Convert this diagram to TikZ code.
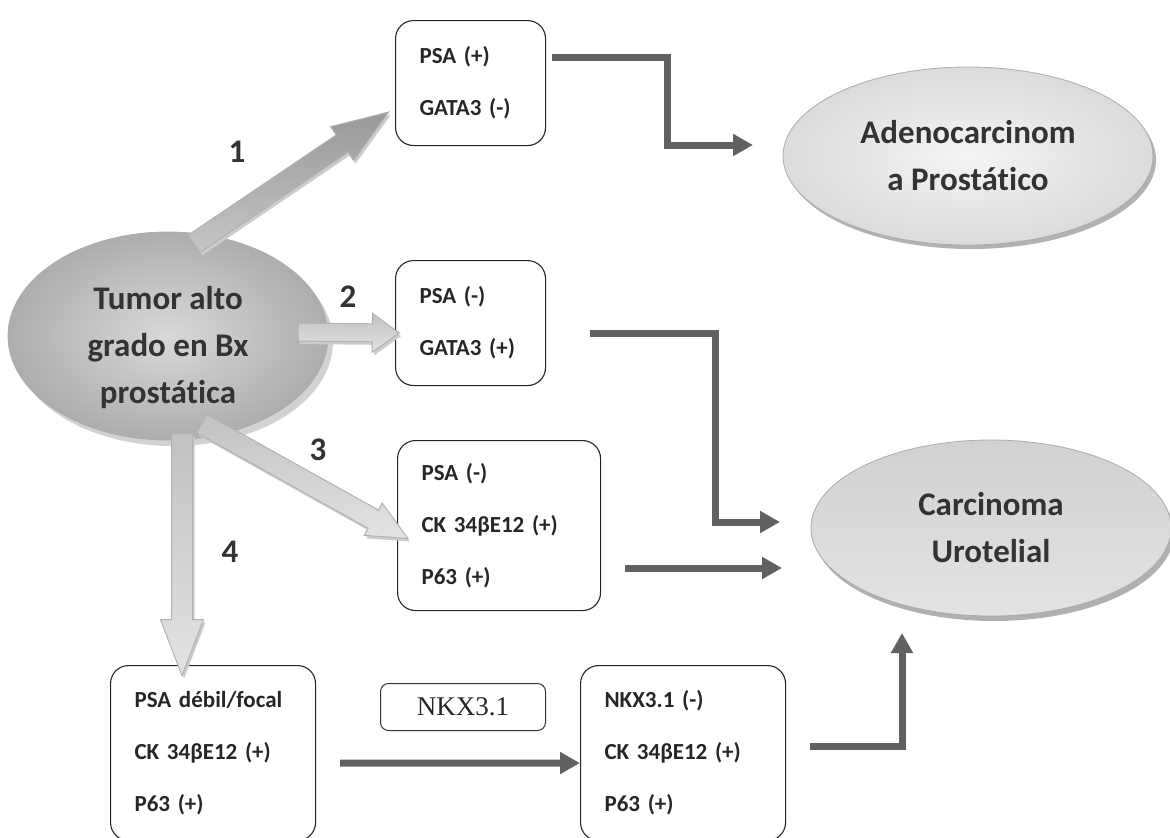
\documentclass[tikz,border=0pt]{standalone}
\usepackage{fontspec}
\setmainfont{Carlito}[Ligatures=NoCommon]
\newfontfamily\serifnk{Liberation Serif}
\usetikzlibrary{shapes,arrows.meta,positioning,calc,shadows}

\tikzset{
  markerbox/.style={draw=black!85, line width=1.1pt, rounded corners=18pt, anchor=north west,
    align=left, inner xsep=24pt, text=black!85, font=\bfseries\fontsize{23}{52}\selectfont},
  diagnosis/.style={ellipse, draw=gray!65, line width=0.8pt, inner sep=0pt},
  diagtext/.style={align=center, text=black!80, font=\bfseries\fontsize{33}{47}\selectfont},
  steplabel/.style={text=black!80, font=\bfseries\fontsize{33}{38}\selectfont},
  conn/.style={draw=black!62, line width=7pt, -{Triangle[length=20pt,width=21pt]}},
  blockarrow/.style={single arrow, draw=gray!60, line width=1pt, inner sep=0pt,
    single arrow head indent=0pt, midway, sloped, allow upside down,
    top color=gray!48, bottom color=gray!22,
    drop shadow={shadow xshift=2pt, shadow yshift=-3pt, fill=gray!40, opacity=1}}
}

\begin{document}
\begin{tikzpicture}[x=1pt, y=-1pt]
    \useasboundingbox (0,0) rectangle (1170,838);

    % diagnoses
    \node[diagnosis, minimum width=320pt, minimum height=208pt, inner color=gray!30, outer color=gray!64,
          drop shadow={shadow xshift=5pt, shadow yshift=-6pt, fill=gray!35, opacity=1}] (tumor) at (168,336) {};
    \node[diagtext] (tumortext) at ([yshift=-12pt]tumor.center) {Tumor alto\\grado en Bx\\prostática};
    \node[diagnosis, minimum width=370pt, minimum height=178pt, inner color=gray!8, outer color=gray!28,
          drop shadow={shadow xshift=3pt, shadow yshift=-4pt, fill=gray!60, opacity=1}] (adeno) at (968,156) {};
    \node[diagtext] (adenotext) at (adeno.center) {Adenocarcinom\\a Prostático};
    \node[diagnosis, minimum width=360pt, minimum height=176pt, top color=gray!36, bottom color=gray!22,
          drop shadow={shadow xshift=3pt, shadow yshift=-5pt, fill=gray!62, opacity=1}] (urot) at (991,528) {};
    \node[diagtext] (urottext) at (urot.center) {Carcinoma\\Urotelial};

    % marker boxes
    \node[markerbox, minimum width=150pt, minimum height=125pt, text width=102pt] (box1) at (395,20) {PSA (+)\\GATA3 (-)};
    \node[markerbox, minimum width=150pt, minimum height=125pt, text width=102pt] (box2) at (395,260) {PSA (-)\\GATA3 (+)};
    \node[markerbox, minimum width=203pt, minimum height=170pt, text width=155pt] (box3) at (397,440) {PSA (-)\\CK 34βE12 (+)\\P63 (+)};
    \node[markerbox, minimum width=205pt, minimum height=175pt, text width=157pt] (box4) at (110,665) {PSA débil/focal\\CK 34βE12 (+)\\P63 (+)};
    \node[markerbox, minimum width=205pt, minimum height=175pt, text width=157pt] (box5) at (580,665) {NKX3.1 (-)\\CK 34βE12 (+)\\P63 (+)};
    \node[draw=black!80, line width=1pt, rounded corners=8pt, anchor=north west, minimum width=165pt,
          minimum height=47pt, font=\serifnk\fontsize{27}{27}\selectfont, text=black!85] (nkx) at (380,683) {NKX3.1};

    % block arrows out of the tumour
    \coordinate (a1s) at (182,252);  \coordinate (a1e) at (377,120);
    \coordinate (a2s) at (292,332);  \coordinate (a2e) at (393,333);
    \coordinate (a3s) at (192,418);  \coordinate (a3e) at (398,533);
    \coordinate (a4s) at (182,420);  \coordinate (a4e) at (182,662);
    \path (a1s) -- (a1e) node[blockarrow, minimum height=235pt, inner ysep=10pt, single arrow head extend=10pt,
          single arrow tip angle=40, top color=gray!80, bottom color=gray!45] (arr1) {};
    \path (a2s) -- (a2e) node[blockarrow, minimum height=101pt, inner ysep=8.5pt, single arrow head extend=10.5pt,
          single arrow tip angle=72] (arr2) {};
    \path (a3s) -- (a3e) node[blockarrow, minimum height=236pt, inner ysep=10pt, single arrow head extend=8pt,
          single arrow tip angle=50] (arr3) {};
    \path (a4s) -- (a4e) node[blockarrow, minimum height=242pt, inner ysep=10pt, single arrow head extend=11pt,
          single arrow tip angle=42] (arr4) {};

    \node[steplabel] (n1) at (237,152) {1};
    \node[steplabel] (n2) at (348,297) {2};
    \node[steplabel] (n3) at (318,450) {3};
    \node[steplabel] (n4) at (230,552) {4};

    % connectors to the diagnoses
    \coordinate (c1s) at (552,57);   \coordinate (adenoin) at (753,145);
    \coordinate (c2s) at (590,333);  \coordinate (urotin1) at (780,522);
    \coordinate (c3s) at (625,568);  \coordinate (urotin2) at (782,568);
    \coordinate (c4s) at (340,763);
    \coordinate (c5s) at (810,746);  \coordinate (urotin3) at (902,633);
    \draw[conn] (c1s) -- +(115,0) |- (adenoin);
    \draw[conn] (c2s) -- +(125,0) |- (urotin1);
    \draw[conn] (c3s) -- (urotin2);
    \draw[conn] (c4s) -- ([yshift=-10pt]box5.west);
    \draw[conn] (c5s) -| (urotin3);
\end{tikzpicture}
\end{document}
